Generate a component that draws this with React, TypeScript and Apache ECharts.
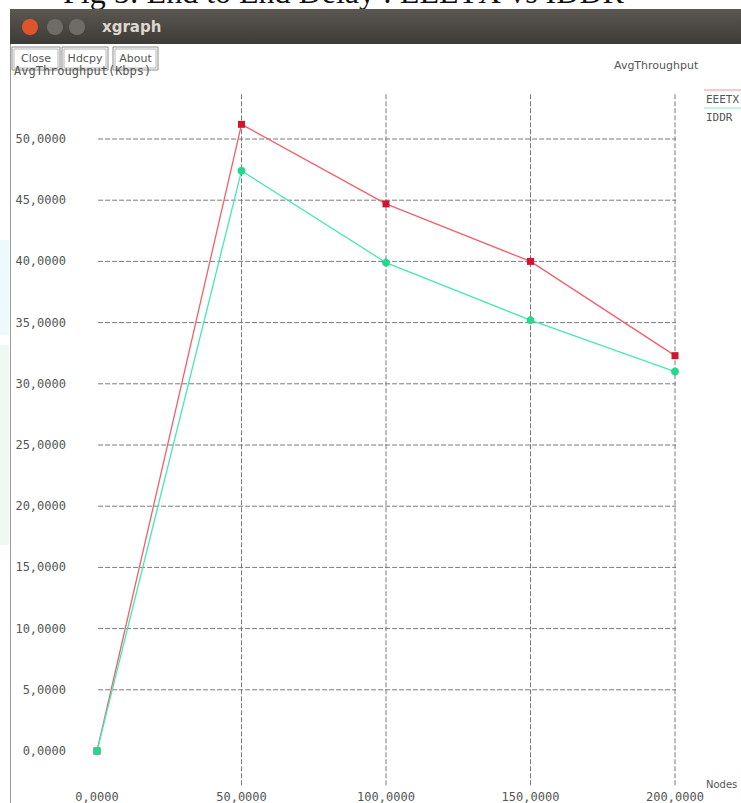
import React, { useEffect, useRef } from "react";
import * as echarts from "echarts";

const nodes = [0, 50, 100, 150, 200];
const eeetx = [0, 51.2, 44.7, 40.0, 32.3];
const iddr = [0, 47.4, 39.9, 35.2, 31.0];
const xTickValues = [50, 100, 150, 200];
const yTickValues = [5, 10, 15, 20, 25, 30, 35, 40, 45, 50];
const seriesNames = ["EEETX", "IDDR"];
const buttonLabels = ["Close", "Hdcpy", "About"];

// how far the xgraph grid lines run past the plotted range (axis units)
const xLineSpan = [-9.3, 210.4];
const yLineSpan = [-2.8, 53.8];

const fmt = (v: number) => v.toFixed(4).replace(".", ",");

const gridLine = { color: "#7a7a7a", width: 1, type: [5, 2] as any };

export default function App() {
  const ref = useRef<HTMLDivElement>(null);
  useEffect(() => {
    document.body.style.margin = "0";
    const chart = echarts.init(ref.current!, null, { renderer: "svg" });
    const mono = "DejaVu Sans Mono";
    const buttonX = [12, 62, 113];
    const buttonW = [48, 46, 45];
    const buttons: any[] = buttonLabels.map((t, i) => ({
      type: "group",
      x: buttonX[i],
      y: 47,
      z: 20,
      children: [
        { type: "rect", shape: { x: 0, y: 0, width: buttonW[i], height: 23 }, style: { fill: "#fff", stroke: "#8a8a8a", lineWidth: 1 } },
        { type: "rect", shape: { x: 2, y: 2, width: buttonW[i] - 4, height: 19 }, style: { fill: "#fff", stroke: "#b5b5b5", lineWidth: 1 } },
        { type: "text", x: buttonW[i] / 2, y: 11.5, style: { text: t, fontFamily: "DejaVu Sans", fontSize: 11, fill: "#555", align: "center", verticalAlign: "middle" } },
      ],
    }));
    const gridSeries: any[] = [
      ...yTickValues.map((v) => [[xLineSpan[0], v], [xLineSpan[1], v]]),
      ...xTickValues.map((v) => [[v, yLineSpan[0]], [v, yLineSpan[1]]]),
    ].map((d) => ({
      type: "line",
      data: d,
      symbol: "none",
      clip: false,
      silent: true,
      lineStyle: gridLine,
      emphasis: { disabled: true },
      z: 1,
    }));
    chart.setOption({
      animation: false,
      backgroundColor: "#ffffff",
      grid: { left: 97, right: 66, top: 139, bottom: 52 },
      xAxis: {
        type: "value",
        min: 0,
        max: 200,
        interval: 50,
        axisLine: { show: false },
        axisTick: { show: false },
        splitLine: { show: false },
        axisLabel: { formatter: fmt, margin: 40, fontFamily: mono, fontSize: 12, color: "#555" },
      },
      yAxis: {
        type: "value",
        min: 0,
        max: 50,
        interval: 5,
        axisLine: { show: false },
        axisTick: { show: false },
        splitLine: { show: false },
        axisLabel: { formatter: fmt, margin: 31, fontFamily: mono, fontSize: 12, color: "#555" },
      },
      series: [
        ...gridSeries,
        {
          name: seriesNames[0],
          type: "line",
          data: nodes.map((x, i) => [x, eeetx[i]]),
          symbol: "rect",
          symbolSize: 7,
          clip: false,
          lineStyle: { color: "#f0606a", width: 1.3 },
          itemStyle: { color: "#cf1530" },
          z: 3,
        },
        {
          name: seriesNames[1],
          type: "line",
          data: nodes.map((x, i) => [x, iddr[i]]),
          symbol: "circle",
          symbolSize: 8,
          clip: false,
          lineStyle: { color: "#45e8b5", width: 1.3 },
          itemStyle: { color: "#22d98e" },
          z: 4,
        },
      ],
      graphic: [
        { type: "rect", z: 1, shape: { x: 0, y: 240, width: 9, height: 95 }, style: { fill: "#ecfafb" } },
        { type: "rect", z: 1, shape: { x: 0, y: 345, width: 9, height: 200 }, style: { fill: "#eef9f3" } },
        {
          type: "text",
          z: 1,
          x: 63,
          y: 8,
          style: { text: "Fig 5: End to End Delay : EEETX vs IDDR", fontFamily: "Liberation Serif", fontSize: 32, fill: "#111", verticalAlign: "bottom" },
        },
        {
          type: "rect",
          z: 10,
          shape: { x: 10, y: 9, width: 731, height: 35 },
          style: {
            fill: { type: "linear", x: 0, y: 0, x2: 0, y2: 1, colorStops: [{ offset: 0, color: "#5b5751" }, { offset: 1, color: "#3d3b37" }] } as any,
          },
        },
        { type: "line", z: 10, shape: { x1: 10.5, y1: 44, x2: 10.5, y2: 803 }, style: { stroke: "#9a9a9a", lineWidth: 1 } },
        { type: "circle", z: 11, shape: { cx: 30, cy: 27, r: 8 }, style: { fill: "#e0542c" } },
        { type: "circle", z: 11, shape: { cx: 55, cy: 27, r: 8 }, style: { fill: "#6f6c67" } },
        { type: "circle", z: 11, shape: { cx: 77, cy: 27, r: 8 }, style: { fill: "#6f6c67" } },
        { type: "text", z: 11, x: 102, y: 27, style: { text: "xgraph", fontFamily: "DejaVu Sans", fontWeight: "bold", fontSize: 15, fill: "#dcd8d0", verticalAlign: "middle" } },
        { type: "text", z: 5, x: 14, y: 71, style: { text: "AvgThroughput(Kbps)", fontFamily: mono, fontSize: 12, fill: "#555", verticalAlign: "middle" } },
        ...buttons,
        { type: "text", z: 5, x: 614, y: 65, style: { text: "AvgThroughput", fontFamily: "DejaVu Sans", fontSize: 11, fill: "#555", verticalAlign: "middle" } },
        { type: "line", z: 5, shape: { x1: 704, y1: 90, x2: 741, y2: 90 }, style: { stroke: "#fbc8ce", lineWidth: 2 } },
        { type: "text", z: 5, x: 706, y: 99, style: { text: seriesNames[0], fontFamily: mono, fontSize: 11, fill: "#555", verticalAlign: "middle" } },
        { type: "line", z: 5, shape: { x1: 704, y1: 108, x2: 741, y2: 108 }, style: { stroke: "#c4f4e2", lineWidth: 2 } },
        { type: "text", z: 5, x: 706, y: 117, style: { text: seriesNames[1], fontFamily: mono, fontSize: 11, fill: "#555", verticalAlign: "middle" } },
        { type: "text", z: 5, x: 706, y: 784, style: { text: "Nodes", fontFamily: "DejaVu Sans", fontSize: 10, fill: "#555", verticalAlign: "middle" } },
      ],
    });
    return () => chart.dispose();
  }, []);
  return <div ref={ref} style={{ width: 741, height: 803 }} />;
}
